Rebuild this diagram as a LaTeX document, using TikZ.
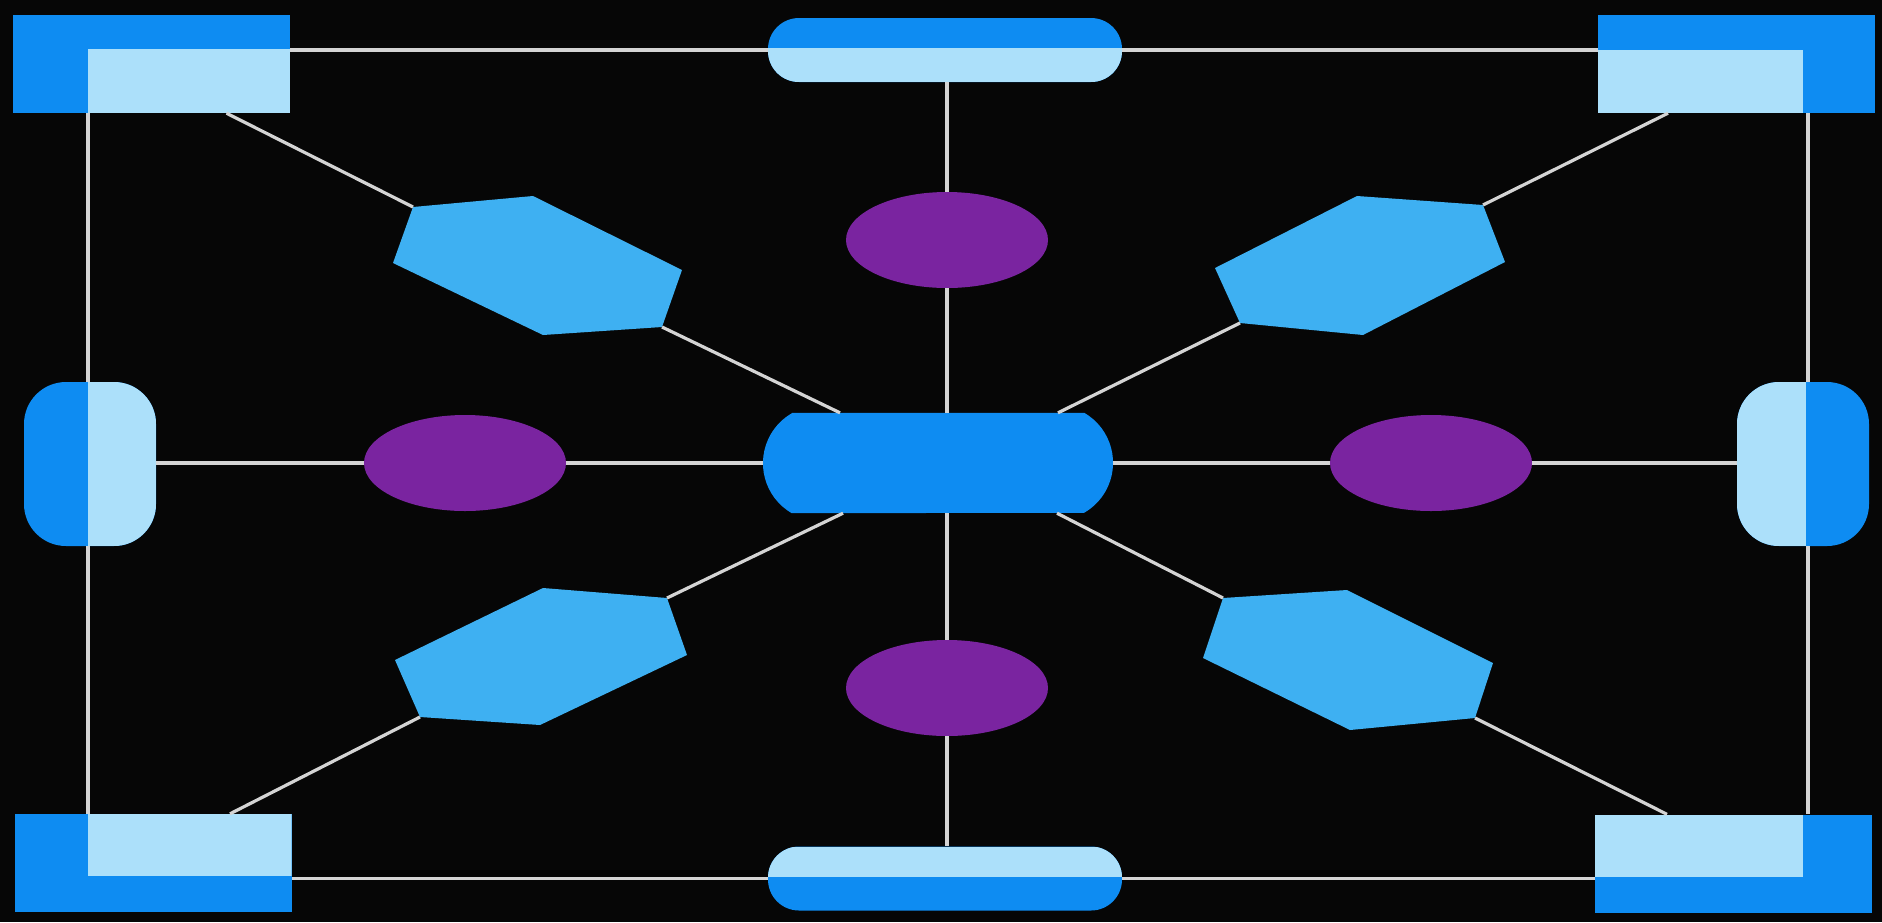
\documentclass[tikz,border=0pt]{standalone}
\usetikzlibrary{shapes.geometric}
\definecolor{darkb}{RGB}{14,140,242}
\definecolor{lightb}{RGB}{172,224,250}
\definecolor{hexb}{RGB}{62,176,242}
\definecolor{purp}{RGB}{122,36,160}
\definecolor{bg}{RGB}{6,6,6}
\definecolor{linec}{RGB}{212,212,212}
\begin{document}
\begin{tikzpicture}[x=1pt,y=-1pt,
  conn/.style={draw=linec,line width=3.2pt},
  lightpart/.style={fill=lightb,sharp corners},
  sqbox/.style={rectangle,fill=darkb,inner sep=0pt,minimum width=277pt,minimum height=98pt},
  hpill/.style={rectangle,rounded corners=31pt,fill=darkb,inner sep=0pt,minimum width=354pt,minimum height=64pt},
  vpill/.style={rectangle,rounded corners=42pt,fill=darkb,inner sep=0pt,minimum width=132pt,minimum height=164pt},
  cpill/.style={rectangle,inner sep=0pt,minimum width=350pt,minimum height=100pt},
  purpell/.style={ellipse,fill=purp,inner sep=0pt,minimum width=202pt,minimum height=96pt},
  hexshape/.style={fill=hexb}
]
\fill[bg] (0,0) rectangle (1882,922);
\useasboundingbox (0,0) rectangle (1882,922);

% corner squares
\node[sqbox,path picture={\path[lightpart] ([xshift=-63.5pt,yshift=15pt]path picture bounding box.center) rectangle (path picture bounding box.south east);}] (tl) at (151.5,64) {};
\node[sqbox,path picture={\path[lightpart] (path picture bounding box.south west) rectangle ([xshift=66.5pt,yshift=14pt]path picture bounding box.center);}] (tr) at (1736.5,64) {};
\node[sqbox,path picture={\path[lightpart] ([xshift=-65pt,yshift=-13pt]path picture bounding box.center) rectangle (path picture bounding box.north east);}] (bl) at (153,863) {};
\node[sqbox,path picture={\path[lightpart] (path picture bounding box.north west) rectangle ([xshift=69.5pt,yshift=-13.5pt]path picture bounding box.center);}] (br) at (1733.5,863.5) {};

% pills
\node[hpill,path picture={\path[lightpart] ([yshift=2pt]path picture bounding box.west) rectangle (path picture bounding box.south east);}] (toppill) at (945,50) {};
\node[hpill,path picture={\path[lightpart] ([yshift=1.5pt]path picture bounding box.west) rectangle (path picture bounding box.north east);}] (botpill) at (945,878.5) {};
\node[vpill,path picture={\path[lightpart] ([xshift=-2pt]path picture bounding box.north) rectangle (path picture bounding box.south east);}] (leftpill) at (90,464) {};
\node[vpill,path picture={\path[lightpart] (path picture bounding box.north west) rectangle ([xshift=3pt]path picture bounding box.south);}] (rightpill) at (1803,464) {};
\node[cpill] (cen) at (938,463) {};
\fill[darkb] ([xshift=29pt]cen.north west) -- ([xshift=-29pt]cen.north east)
  arc[start angle=60,end angle=-60,radius=57.7pt]
  -- ([xshift=29pt]cen.south west)
  arc[start angle=240,end angle=120,radius=57.7pt] -- cycle;

% purple ellipses
\node[purpell] (ptop) at (947,240) {};
\node[purpell] (pbot) at (947,688) {};
\node[purpell] (pleft) at (465,463) {};
\node[purpell] (pright) at (1431,463) {};

% hexagons
\coordinate (h1a) at (393,263); \coordinate (h1b) at (413,207); \coordinate (h1c) at (533,196);
\coordinate (h1d) at (682,270); \coordinate (h1e) at (662,327); \coordinate (h1f) at (543,335);
\coordinate (h2a) at (1215,268); \coordinate (h2b) at (1357,196); \coordinate (h2c) at (1483,205);
\coordinate (h2d) at (1505,262); \coordinate (h2e) at (1363,335); \coordinate (h2f) at (1240,323);
\coordinate (h3a) at (395,660); \coordinate (h3b) at (543,588); \coordinate (h3c) at (667,598);
\coordinate (h3d) at (687,655); \coordinate (h3e) at (540,725); \coordinate (h3f) at (420,717);
\coordinate (h4a) at (1203,658); \coordinate (h4b) at (1223,598); \coordinate (h4c) at (1347,590);
\coordinate (h4d) at (1493,663); \coordinate (h4e) at (1475,718); \coordinate (h4f) at (1350,730);
\fill[hexshape] (h1a) -- (h1b) -- (h1c) -- (h1d) -- (h1e) -- (h1f) -- cycle;
\fill[hexshape] (h2a) -- (h2b) -- (h2c) -- (h2d) -- (h2e) -- (h2f) -- cycle;
\fill[hexshape] (h3a) -- (h3b) -- (h3c) -- (h3d) -- (h3e) -- (h3f) -- cycle;
\fill[hexshape] (h4a) -- (h4b) -- (h4c) -- (h4d) -- (h4e) -- (h4f) -- cycle;

% outer frame connectors
\draw[conn] (toppill.west) -- (toppill.west -| tl.east);
\draw[conn] (toppill.east) -- (toppill.east -| tr.west);
\draw[conn] (botpill.west) -- (botpill.west -| bl.east);
\draw[conn] (botpill.east) -- (botpill.east -| br.west);
\draw[conn] ([xshift=-2pt]leftpill.north) -- ([xshift=-2pt]leftpill.north |- tl.south);
\draw[conn] ([xshift=-2pt]leftpill.south) -- ([xshift=-2pt]leftpill.south |- bl.north);
\draw[conn] ([xshift=5pt]rightpill.north) -- ([xshift=5pt]rightpill.north |- tr.south);
\draw[conn] ([xshift=5pt]rightpill.south) -- ([xshift=5pt]rightpill.south |- br.north);

% central cross
\draw[conn] (ptop.north) -- (ptop.north |- toppill.south);
\draw[conn] (ptop.south) -- (ptop.south |- cen.north);
\draw[conn] (pbot.north) -- (pbot.north |- cen.south);
\draw[conn] (pbot.south) -- (pbot.south |- botpill.north);
\draw[conn] (pleft.west) -- (pleft.west -| leftpill.east);
\draw[conn] (pleft.east) -- (pleft.east -| cen.west);
\draw[conn] (pright.west) -- (pright.west -| cen.east);
\draw[conn] (pright.east) -- (pright.east -| rightpill.west);

% diagonals
\draw[conn] ([xshift=75pt]tl.south) -- (h1b);
\draw[conn] (h1e) -- ([xshift=-98pt]cen.north);
\draw[conn] ([xshift=-68.5pt]tr.south) -- (h2c);
\draw[conn] (h2f) -- ([xshift=120pt]cen.north);
\draw[conn] ([xshift=77pt]bl.north) -- (h3f);
\draw[conn] (h3c) -- ([xshift=-95pt]cen.south);
\draw[conn] ([xshift=119pt]cen.south) -- (h4b);
\draw[conn] (h4e) -- ([xshift=-66.5pt]br.north);
\end{tikzpicture}
\end{document}
